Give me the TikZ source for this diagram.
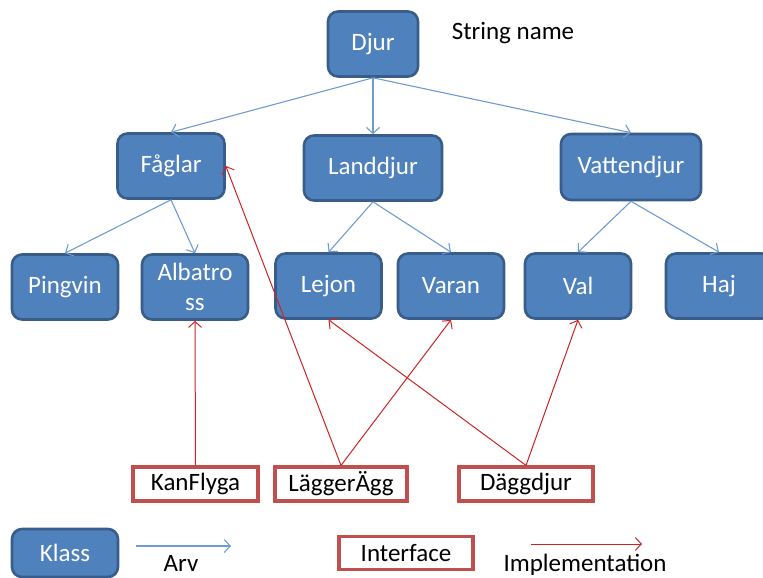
\documentclass[tikz,border=0pt]{standalone}
\usepackage{fontspec}
\setmainfont{Carlito}
\usetikzlibrary{arrows.meta}
\definecolor{boxfill}{HTML}{4F81BD}
\definecolor{boxline}{HTML}{385D8A}
\definecolor{arvline}{RGB}{110,155,210}
\definecolor{ifline}{HTML}{C0504D}
\definecolor{implline}{RGB}{205,35,35}
\tikzset{
  klassbox/.style={draw=boxline, fill=boxfill, line width=2.6pt, rounded corners=10pt,
    text=white, inner sep=0pt, align=center, font=\fontsize{25}{30}\selectfont},
  ifbox/.style={draw=ifline, fill=white, line width=3.2pt, inner sep=0pt,
    text=black, font=\fontsize{25}{30}\selectfont},
  plain/.style={inner sep=0pt, font=\fontsize{25}{30}\selectfont},
  arv/.style={draw=arvline, line width=1.1pt, -{Straight Barb[length=6pt,width=13pt,line width=1.1pt]}},
  impl/.style={draw=implline, line width=1.0pt, -{Straight Barb[length=6pt,width=13pt,line width=1.0pt]}}
}
\begin{document}
\begin{tikzpicture}[x=1pt,y=-1pt]
\useasboundingbox (0,0) rectangle (763,578);
% classes
\node[klassbox, minimum width=90pt, minimum height=65pt] (djur) at (373,44) {Djur};
\node[klassbox, minimum width=107pt, minimum height=65pt] (fag) at (171,166) {Fåglar};
\node[klassbox, minimum width=138pt, minimum height=65pt] (land) at (373,168) {Landdjur};
\node[klassbox, minimum width=140pt, minimum height=66pt] (vatten) at (631,167) {Vattendjur};
\node[klassbox, minimum width=106pt, minimum height=65pt] (ping) at (65,287) {Pingvin};
\node[klassbox, minimum width=106pt, minimum height=65pt] (alb) at (195,287) {Albatro\\ss};
\node[klassbox, minimum width=106pt, minimum height=65pt] (lejon) at (328.5,286) {Lejon};
\node[klassbox, minimum width=106pt, minimum height=65pt] (varan) at (451,286) {Varan};
\node[klassbox, minimum width=106pt, minimum height=65pt] (val) at (578,286) {Val};
\node[klassbox, minimum width=106pt, minimum height=65pt] (haj) at (719,286) {Haj};
% interfaces
\node[ifbox, minimum width=125pt, minimum height=34pt] (kan) at (195.5,484) {KanFlyga};
\node[ifbox, minimum width=132pt, minimum height=34pt] (lagger) at (341,484) {LäggerÄgg};
\node[ifbox, minimum width=134pt, minimum height=34pt] (dagg) at (526,484) {Däggdjur};
% label
\node[plain] (sname) at (513,33) {String name};
% inheritance
\draw[arv] (djur.south) -- (fag.north);
\draw[arv] (djur.south) -- (land.north);
\draw[arv] (djur.south) -- (vatten.north);
\draw[arv] (fag.south) -- (ping.north);
\draw[arv] (fag.south) -- (alb.north);
\draw[arv] (land.south) -- (lejon.north);
\draw[arv] (land.south) -- (varan.north);
\draw[arv] (vatten.south) -- (val.north);
\draw[arv] (vatten.south) -- (haj.north);
% implementation
\draw[impl] (kan.north) -- (alb.south);
\draw[impl] (lagger.north) -- (fag.east);
\draw[impl] (lagger.north) -- (varan.south);
\draw[impl] (dagg.north) -- (lejon.south);
\draw[impl] (dagg.north) -- (val.south);
% legend
\node[klassbox, minimum width=106pt, minimum height=48pt] (klass) at (65,553) {Klass};
\coordinate (arvA) at (136,546);
\coordinate (arvB) at (231,546);
\draw[arv] (arvA) -- (arvB);
\node[plain, anchor=base] (arvtxt) at (181,571) {Arv};
\node[ifbox, minimum width=134pt, minimum height=33pt] (iface) at (406,553) {Interface};
\coordinate (implA) at (531,544);
\coordinate (implB) at (642,544);
\draw[impl] (implA) -- (implB);
\node[plain, anchor=base] (impltxt) at (585,571) {Implementation};
\end{tikzpicture}
\end{document}
